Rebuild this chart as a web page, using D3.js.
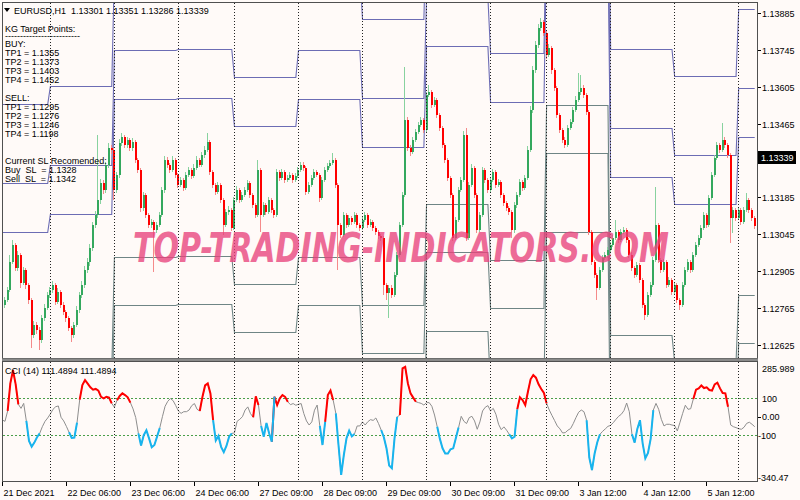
<!DOCTYPE html>
<html><head><meta charset="utf-8">
<script src="https://cdn.jsdelivr.net/npm/d3@7"></script>
<style>body{margin:0;background:#fffaf8}svg{display:block}text{font-family:"Liberation Sans",Arial,sans-serif;font-size:9px;fill:#000}</style>
</head><body><svg id="c" width="800" height="500"></svg>
<script>
// ---------- DATA ----------
const firstOpen = 1.12821;
const closes = [
1.12775,1.12794,1.12832,1.12938,1.13003,1.12916,1.12965,1.12859,1.12908,1.12851,1.12794,1.12661,1.12699,1.12680,1.12642,1.12726,1.12764,1.12813,
1.12832,1.12851,1.12786,1.12824,1.12775,1.12748,1.12726,1.12688,1.12661,1.12699,1.12756,1.12813,1.12851,1.12908,1.12938,1.12992,1.13079,1.13117,1.13174,1.13239,1.13212,1.13307,1.13372,1.13364,
1.13212,1.13269,1.13391,1.13413,1.13383,1.13402,1.13372,1.13394,1.13326,1.13288,1.13144,1.13193,1.13117,1.13079,1.13090,1.13060,1.13079,1.13117,1.13212,1.13326,1.13307,1.13288,1.13326,1.13269,
1.13231,1.13250,1.13220,1.13269,1.13288,1.13265,1.13296,1.13326,1.13307,1.13345,1.13364,1.13394,1.13280,1.13231,1.13204,1.13231,1.13174,1.13079,1.13128,1.13136,1.13068,
1.13174,1.13212,1.13174,1.13193,1.13212,1.13239,1.13193,1.13155,1.13117,1.13288,1.13117,1.13155,1.13128,1.13174,1.13136,1.13117,1.13280,1.13258,1.13280,1.13250,1.13258,1.13269,1.13250,1.13265,
1.13288,1.13307,1.13296,1.13204,1.13231,1.13258,1.13280,1.13269,1.13182,1.13250,1.13288,1.13303,1.13315,1.13326,1.13231,1.13079,1.13041,1.13117,1.13079,1.13106,1.13090,1.13117,1.13079,1.13068,
1.13098,1.13117,1.13079,1.13090,1.13068,1.13052,1.13037,1.13030,1.12851,1.12821,1.12840,1.12813,1.12889,1.12965,1.13079,1.13193,1.13478,1.13372,1.13356,1.13402,1.13432,1.13459,1.13478,1.13440,
1.13573,1.13584,1.13535,1.13554,1.13497,1.13448,1.13383,1.13326,1.13258,1.13193,1.13030,1.13098,1.13212,1.13250,1.13421,1.13030,1.13231,1.13296,1.13193,1.13060,1.13117,1.13288,1.13250,1.13212,
1.13250,1.13280,1.13231,1.13242,1.13193,1.13163,1.13144,1.13128,1.13060,1.13155,1.13193,1.13242,1.13220,1.13258,1.13364,1.13516,1.13668,1.13763,1.13828,1.13850,1.13809,
1.13725,1.13752,1.13668,1.13600,1.13497,1.13440,1.13402,1.13383,1.13448,1.13470,1.13516,1.13554,1.13584,1.13600,1.13573,1.13508,1.13052,1.12938,1.12889,1.12840,1.12908,1.12954,1.12965,1.12984,
1.13003,1.13030,1.13052,1.13022,1.13052,1.13060,1.13022,1.12965,1.12916,1.12889,1.12927,1.12870,1.12775,1.12737,1.12813,1.12851,1.12946,1.13079,1.12946,1.12908,1.12938,1.12851,1.12870,1.12824,
1.12851,1.12794,1.12775,1.12851,1.12908,1.12938,1.12908,1.12965,1.13003,1.13030,1.13068,1.13117,1.13079,1.13182,1.13269,1.13334,1.13383,1.13364,1.13402,1.13383,1.13345,1.13106,1.13136,1.13106,
1.13136,1.13090,1.13136,1.13174,1.13136,1.13106,1.13075];
const highs = [
1.12832,1.12806,1.12845,1.12965,1.13022,1.13012,1.12980,1.12972,1.12920,1.12915,1.12860,1.12800,1.12715,1.12710,1.12690,1.12738,1.12778,1.12825,
1.12845,1.12865,1.12860,1.12838,1.12832,1.12785,1.12756,1.12735,1.12697,1.12712,1.12770,1.12826,1.12866,1.12922,1.12955,1.13008,1.13092,1.13132,1.13421,1.13255,1.13250,1.13320,1.13391,1.13385,
1.13372,1.13282,1.13405,1.13430,1.13422,1.13415,1.13410,1.13408,1.13402,1.13335,1.13296,1.13205,1.13200,1.13126,1.13102,1.13098,1.13092,1.13130,1.13225,1.13340,1.13338,1.13316,1.13340,1.13335,
1.13278,1.13262,1.13258,1.13282,1.13300,1.13296,1.13310,1.13340,1.13335,1.13358,1.13378,1.13429,1.13402,1.13290,1.13240,1.13244,1.13238,1.13182,1.13140,1.13150,1.13145,
1.13186,1.13226,1.13220,1.13206,1.13225,1.13252,1.13246,1.13200,1.13162,1.13326,1.13296,1.13168,1.13162,1.13186,1.13182,1.13145,1.13293,1.13290,1.13292,1.13288,1.13270,1.13280,1.13276,1.13276,
1.13300,1.13320,1.13318,1.13303,1.13244,1.13270,1.13292,1.13290,1.13276,1.13262,1.13300,1.13315,1.13328,1.13353,1.13334,1.13240,1.13088,1.13130,1.13126,1.13118,1.13115,1.13130,1.13125,1.13088,
1.13112,1.13130,1.13125,1.13102,1.13098,1.13076,1.13060,1.13046,1.13038,1.12860,1.12852,1.12850,1.12902,1.12978,1.13092,1.13206,1.13679,1.13490,1.13385,1.13415,1.13445,1.13472,1.13490,1.13486,
1.13586,1.13611,1.13592,1.13566,1.13562,1.13505,1.13456,1.13390,1.13334,1.13266,1.13200,1.13110,1.13225,1.13262,1.13435,1.13448,1.13244,1.13310,1.13304,1.13200,1.13130,1.13300,1.13296,1.13258,
1.13262,1.13292,1.13288,1.13255,1.13250,1.13200,1.13170,1.13152,1.13135,1.13168,1.13206,1.13255,1.13250,1.13270,1.13378,1.13530,1.13682,1.13778,1.13842,1.13866,1.13858,
1.13815,1.13766,1.13760,1.13676,1.13608,1.13505,1.13448,1.13412,1.13460,1.13482,1.13528,1.13568,1.13657,1.13649,1.13610,1.13580,1.13515,1.13060,1.12946,1.12898,1.12920,1.12966,1.12978,1.12996,
1.13016,1.13042,1.13098,1.13060,1.13064,1.13072,1.13068,1.13030,1.12975,1.12925,1.12940,1.12935,1.12878,1.12784,1.12826,1.12864,1.12958,1.13223,1.13088,1.12955,1.12950,1.12945,1.12882,1.12878,
1.12864,1.12858,1.12802,1.12864,1.12920,1.12950,1.12946,1.12978,1.13016,1.13042,1.13080,1.13130,1.13126,1.13195,1.13282,1.13346,1.13396,1.13392,1.13467,1.13412,1.13392,1.13354,1.13148,1.13145,
1.13148,1.13145,1.13148,1.13201,1.13182,1.13145,1.13115];
const lows = [
1.12756,1.12765,1.12786,1.12825,1.12930,1.12905,1.12905,1.12840,1.12850,1.12835,1.12780,1.12612,1.12650,1.12665,1.12604,1.12630,1.12715,1.12755,
1.12800,1.12822,1.12775,1.12778,1.12765,1.12738,1.12712,1.12676,1.12634,1.12650,1.12690,1.12745,1.12803,1.12840,1.12896,1.12925,1.12980,1.13066,1.13105,1.13160,1.13198,1.13200,1.13295,1.13350,
1.13174,1.13200,1.13258,1.13380,1.13372,1.13372,1.13360,1.13362,1.13315,1.13276,1.13130,1.13132,1.13105,1.13066,1.13068,1.12900,1.13048,1.13070,1.13108,1.13200,1.13296,1.13276,1.13280,1.13258,
1.13220,1.13222,1.13210,1.13212,1.13260,1.13255,1.13256,1.13288,1.13298,1.13300,1.13335,1.13355,1.13270,1.13220,1.13192,1.13196,1.13162,1.13041,1.13070,1.13118,1.13055,
1.13060,1.13165,1.13162,1.13166,1.13185,1.13204,1.13182,1.13144,1.13105,1.13108,1.13052,1.13108,1.13116,1.13120,1.13125,1.13105,1.13108,1.13248,1.13250,1.13240,1.13242,1.13250,1.13240,1.13242,
1.13256,1.13280,1.13286,1.13192,1.13196,1.13222,1.13250,1.13260,1.13165,1.13175,1.13242,1.13280,1.13296,1.13306,1.13220,1.12908,1.13030,1.13034,1.13068,1.13070,1.13078,1.13082,1.13066,1.13056,
1.13060,1.13090,1.13068,1.13070,1.13058,1.13040,1.13026,1.13018,1.12813,1.12794,1.12726,1.12800,1.12805,1.12880,1.12956,1.13070,1.13185,1.13360,1.13340,1.13348,1.13395,1.13425,1.13450,1.13430,
1.13432,1.13565,1.13525,1.13526,1.13486,1.13436,1.13372,1.13315,1.13246,1.13180,1.13018,1.13022,1.13090,1.13204,1.13242,1.13020,1.13022,1.13222,1.13182,1.13048,1.13052,1.13108,1.13240,1.13200,
1.13204,1.13242,1.13220,1.13222,1.13182,1.13152,1.13132,1.13116,1.13030,1.13050,1.13145,1.13185,1.13210,1.13212,1.13250,1.13355,1.13506,1.13658,1.13752,1.13818,1.13798,
1.13712,1.13716,1.13655,1.13588,1.13485,1.13428,1.13390,1.13372,1.13375,1.13440,1.13462,1.13508,1.13546,1.13575,1.13562,1.13496,1.13040,1.12926,1.12876,1.12794,1.12832,1.12900,1.12946,1.12955,
1.12975,1.12994,1.13022,1.13012,1.13014,1.13044,1.13012,1.12955,1.12905,1.12878,1.12880,1.12858,1.12764,1.12718,1.12728,1.12804,1.12842,1.12938,1.12935,1.12896,1.12900,1.12840,1.12842,1.12812,
1.12815,1.12782,1.12756,1.12766,1.12842,1.12900,1.12896,1.12900,1.12956,1.12995,1.13022,1.13060,1.13068,1.13070,1.13174,1.13260,1.13325,1.13354,1.13355,1.13372,1.13334,1.13011,1.13049,1.13095,
1.13098,1.13080,1.13082,1.13128,1.13126,1.13096,1.13065];

const dayStarts = [0,18,42,66,87,111,135,159,183,204,228,252,276];
const xTickBars = [0,24,48,72,96,120,144,168,192,216,240,264];
const xTickLabels = ["21 Dec 2021","22 Dec 06:00","23 Dec 06:00","24 Dec 06:00","27 Dec 09:00","28 Dec 09:00","29 Dec 09:00","30 Dec 09:00","31 Dec 09:00","3 Jan 12:00","4 Jan 12:00","5 Jan 12:00"];
const priceTicks = [1.13885,1.13745,1.13605,1.13465,1.13185,1.13045,1.12905,1.12765,1.12625];
const bidPrice = 1.13339;

// KG target levels per day
const buyTP1 = [1.13052,1.13121,1.13558,1.13562,1.13455,1.13558,1.13375,1.13759,1.13546,1.14135,1.13261,1.13159,1.13413];
const buyTP2 = [1.13238,1.13307,1.13744,1.13748,1.13641,1.13744,1.13561,1.13945,1.13732,1.14321,1.13447,1.13345,1.13599];
const buyTP3 = [1.13538,1.13607,1.14044,1.14048,1.13941,1.14044,1.13861,1.14245,1.14032,1.14621,1.13747,1.13645,1.13899];
const buyTP4 = [1.14028,1.14097,1.14534,1.14538,1.14431,1.14534,1.14351,1.14735,1.14522,1.15111,1.14237,1.14135,1.14389];
const sellTP1 = [1.12452,1.12521,1.12958,1.12962,1.12855,1.12958,1.12775,1.13159,1.12946,1.13535,1.12661,1.12559,1.12813];
const sellTP2 = [1.12270,1.12339,1.12776,1.12780,1.12673,1.12776,1.12593,1.12977,1.12764,1.13353,1.12479,1.12377,1.12631];
const sellTP3 = [1.11970,1.12039,1.12476,1.12480,1.12373,1.12476,1.12293,1.12677,1.12464,1.13053,1.12179,1.12077,1.12331];
const sellTP4 = [1.11484,1.11553,1.11990,1.11994,1.11887,1.11990,1.11807,1.12191,1.11978,1.12567,1.11693,1.11591,1.11845];

const cci = [-19,-26,30,179,250,174,66,44,71,-24,
-132,-163,-141,-112,-91,-55,-26,-8,14,39,
53,57,-4,-24,-53,-85,-116,-114,-33,91,
170,197,178,158,145,149,140,106,98,106,
102,71,50,88,111,125,116,104,75,41,
-6,-91,-157,-101,-74,-118,-166,-154,-109,-62,
-1,55,82,97,86,59,30,17,26,26,
35,59,70,39,30,106,168,179,125,-20,
-130,-105,-164,-193,-159,-109,-91,-89,-26,-15,
-1,35,52,16,-4,109,62,-51,-109,-35,
-91,-136,107,62,98,116,106,79,64,70,
61,66,70,16,-24,-46,-29,34,62,-51,
-154,-29,116,140,89,17,-154,-315,-208,-118,
-76,-107,-94,-51,-51,-29,-46,-28,-17,-21,
-8,-38,-73,-112,-173,-265,-280,-118,-2,8,
260,268,179,125,102,80,75,71,62,75,
75,55,8,-55,-121,-172,-200,-200,-177,-172,
-116,-60,1,-26,-38,-6,1,-24,-69,-29,
30,50,59,30,44,12,-42,-71,-56,-74,
-96,-118,-109,39,104,89,62,134,201,224,
210,174,149,127,71,35,6,-22,-51,-67,
-89,-87,-74,-65,-38,-6,23,35,26,-20,
-222,-290,-200,-139,-96,-80,-67,-53,-48,-33,
-15,1,12,32,73,26,-96,-141,-67,-20,
-145,-226,-197,-121,35,71,39,-15,-51,-42,
-42,-46,-49,-78,-31,17,61,39,42,95,
145,152,168,154,158,143,140,174,183,152,
127,125,53,-46,-55,-60,-66,-69,-58,-37,
-31,-42,-55];
const cciLevels = [100,-100];
const cciTicks = [285.989,100,0,-100,-340.47];
const cciTickLabels = ["285.989","100","0.00","-100","-340.47"];

const headerText = "EURUSD,H1  1.13301 1.13351 1.13286 1.13339";
const cciTitle = "CCI (14) 111.4894 111.4894";
const infoLines = [
 ["KG Target Points:",31.5],["-------------------------",39],["BUY:",47],
 ["TP1 = 1.1355",56],["TP2 = 1.1373",65],["TP3 = 1.1403",74],["TP4 = 1.1452",83],
 ["SELL:",101],["TP1 = 1.1295",110],["TP2 = 1.1276",119],["TP3 = 1.1246",128],["TP4 = 1.1198",137],
 ["Current SL Recomended:",164],["Buy  SL  = 1.1328",173],["Sell  SL  = 1.1342",182]];
const watermark = "TOP-TRADING-INDICATORS.COM";

// ---------- DRAW ----------
const N = closes.length;
const svg = d3.select("#c");
const BG = "#fffaf8";
svg.append("rect").attr("width",800).attr("height",500).attr("fill",BG);
const defs = svg.append("defs");
defs.append("clipPath").attr("id","cm").append("rect").attr("x",3).attr("y",3).attr("width",754).attr("height",355);
defs.append("clipPath").attr("id","cc").append("rect").attr("x",3).attr("y",362).attr("width",754).attr("height",119);

const x = d3.scaleLinear().domain([0,N-1]).range([2.33, 2.33+(N-1)*2.668]);
const y = d3.scaleLinear().domain([1.12625,1.13885]).range([344.5,13]);
const yc = d3.scaleLinear().domain([-340.47,285.989]).range([479.5,363.6]);

const gMain = svg.append("g").attr("clip-path","url(#cm)");
const gCci = svg.append("g").attr("clip-path","url(#cc)");

// separators
dayStarts.slice(1).forEach(b=>{
  const sx = Math.floor(x(b))+0.5;
  [[3,358],[362,481]].forEach(([a,bb])=>{
    svg.append("line").attr("x1",sx).attr("x2",sx).attr("y1",a).attr("y2",bb)
      .attr("stroke","#222").attr("stroke-dasharray","1,2");
  });
});

// KG level lines
const dayOf = i => d3.bisectRight(dayStarts,i)-1;
const BLUE = "#6c6cb4", GRAY = "#6f8585";
const levels = [[buyTP1,BLUE],[buyTP2,BLUE],[buyTP3,BLUE],[buyTP4,BLUE],[sellTP1,GRAY],[sellTP2,GRAY],[sellTP3,GRAY],[sellTP4,GRAY]];
const lvLine = d3.line().x((d,i)=>x(i)).y(d=>Math.round(y(d))+0.5);
levels.forEach(([vals,col])=>{
  const arr = d3.range(N).map(i=>vals[dayOf(i)]);
  gMain.append("path").attr("d",lvLine(arr)).attr("fill","none").attr("stroke",col).attr("stroke-width",1.1);
});

// candles
const opens = [firstOpen].concat(closes.slice(0,-1));
const GREEN="#34a85e", GREENW="#88d29f", RED="#ff0000", REDW="#f58a8a";
const cg = gMain.append("g").attr("shape-rendering","crispEdges");
d3.range(N).forEach(i=>{
  const cx = Math.round(x(i));
  const up = closes[i] >= opens[i];
  cg.append("rect").attr("x",cx-1).attr("width",1)
    .attr("y",y(highs[i])).attr("height",Math.max(1,y(lows[i])-y(highs[i])))
    .attr("fill",up?GREENW:REDW);
  const top = y(Math.max(opens[i],closes[i])), bot = y(Math.min(opens[i],closes[i]));
  cg.append("rect").attr("x",cx-1).attr("width",2)
    .attr("y",top).attr("height",Math.max(1,bot-top))
    .attr("fill",up?GREEN:RED);
});

// watermark
svg.append("text").attr("x",133).attr("y",262).text(watermark)
  .attr("textLength",536).attr("lengthAdjust","spacingAndGlyphs")
  .style("font-family","'DejaVu Sans',sans-serif").style("font-size","40px")
  .style("font-weight","bold").style("font-style","italic")
  .style("fill","#e8437c").style("opacity",0.78);

// CCI panel
cciLevels.forEach(v=>{
  gCci.append("line").attr("x1",3).attr("x2",757).attr("y1",Math.round(yc(v))+0.5).attr("y2",Math.round(yc(v))+0.5)
    .attr("stroke","#4a9f4a").attr("stroke-dasharray","2,2");
});
const cLine = d3.line().x((d,i)=>x(i)).y(d=>yc(d));
gCci.append("path").attr("d",cLine(cci)).attr("fill","none").attr("stroke","#8e8e8e").attr("stroke-width",1);
const hot = (i,f)=> f(cci[i]) || (i>0 && f(cci[i-1])) || (i<N-1 && f(cci[i+1]));
const redLine = d3.line().defined((d,i)=>hot(i,v=>v>100)).x((d,i)=>x(i)).y(d=>yc(d));
const blueLine = d3.line().defined((d,i)=>hot(i,v=>v<-100)).x((d,i)=>x(i)).y(d=>yc(d));
gCci.append("path").attr("d",redLine(cci)).attr("fill","none").attr("stroke","#ff0000").attr("stroke-width",2);
gCci.append("path").attr("d",blueLine(cci)).attr("fill","none").attr("stroke","#18b4ee").attr("stroke-width",2);

// frames
svg.append("rect").attr("x",2.5).attr("y",2.5).attr("width",755).attr("height",356).attr("fill","none").attr("stroke","#505050");
svg.append("rect").attr("x",2).attr("y",358.5).attr("width",756).attr("height",3).attr("fill","#8a8a8a");
svg.append("rect").attr("x",2.5).attr("y",361.5).attr("width",755).attr("height",120).attr("fill","none").attr("stroke","#505050");

// price axis
priceTicks.forEach(v=>{
  const py = Math.round(y(v))+0.5;
  svg.append("line").attr("x1",758).attr("x2",761).attr("y1",py).attr("y2",py).attr("stroke","#000");
  svg.append("text").attr("x",762).attr("y",py+3.5).text(v.toFixed(5));
});
const by = Math.round(y(bidPrice));
svg.append("rect").attr("x",758).attr("y",by-6).attr("width",38).attr("height",13).attr("fill","#000");
svg.append("text").attr("x",761).attr("y",by+3.5).text(bidPrice.toFixed(5)).style("fill","#fff");

// cci axis
cciTicks.forEach((v,k)=>{
  let py = yc(v);
  if(k===0) py += 4.5;
  if(k===cciTicks.length-1) py -= 2.5;
  const neg = cciTickLabels[k].startsWith("-");
  if(v===0) svg.append("line").attr("x1",758).attr("x2",761).attr("y1",Math.round(py)+0.5).attr("y2",Math.round(py)+0.5).attr("stroke","#000");
  svg.append("text").attr("x",neg?758:762).attr("y",py+3.5).text(cciTickLabels[k]);
});

// time axis
xTickBars.forEach((b,k)=>{
  const tx = Math.floor(x(b))+0.5;
  svg.append("line").attr("x1",tx).attr("x2",tx).attr("y1",482).attr("y2",486).attr("stroke","#000");
  svg.append("text").attr("x",tx+1).attr("y",496).text(xTickLabels[k]);
});

// texts
svg.append("path").attr("d","M4,8 L10,8 L7,12 Z").attr("fill","#000");
svg.append("text").attr("x",14).attr("y",13.5).text(headerText).style("white-space","pre");
infoLines.forEach(([t,yy])=>svg.append("text").attr("x",5).attr("y",yy).text(t).style("white-space","pre"));
svg.append("text").attr("x",5).attr("y",373.5).text(cciTitle);
</script></body></html>
